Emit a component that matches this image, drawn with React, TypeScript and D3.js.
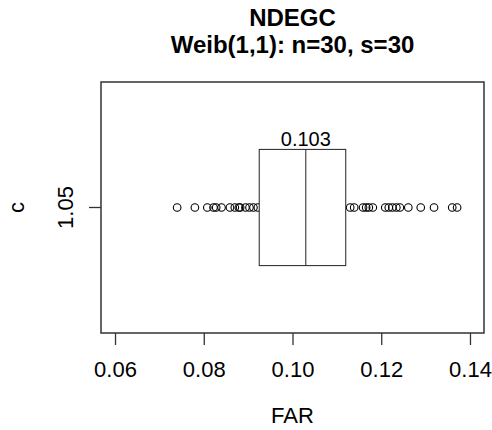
import { useEffect, useRef } from "react";
import * as d3 from "d3";

// FAR values seen as points (the box covers the middle ones)
const farValues = [
  0.074, 0.078, 0.0808, 0.0822, 0.0828, 0.084, 0.0859, 0.087, 0.0879, 0.0882,
  0.0894, 0.0903, 0.0912, 0.0922, 0.113, 0.1139, 0.1159, 0.1166, 0.1172,
  0.1181, 0.1209, 0.1217, 0.1225, 0.1234, 0.1242, 0.1261, 0.1289, 0.1319,
  0.136, 0.1371,
];
const boxStats = [0.0925, 0.103, 0.112]; // q1, median, q3
const xTicks = [0.06, 0.08, 0.1, 0.12, 0.14];
const groupLabels = ["1.05"];
const titleLines = ["NDEGC", "Weib(1,1): n=30, s=30"];

const App = () => {
  const svgRef = useRef<SVGSVGElement>(null);

  useEffect(() => {
    const svg = d3.select(svgRef.current);
    svg.selectAll("*").remove();

    const width = 492;
    const height = 430;
    const margin = { top: 82, right: 8, bottom: 97, left: 101 };
    const font = "'Liberation Sans', Arial, sans-serif";

    const x = d3
      .scaleLinear()
      .domain([0.05684, 0.14316])
      .range([margin.left, width - margin.right]);
    const y = d3
      .scaleBand()
      .domain(groupLabels)
      .range([margin.top, height - margin.bottom])
      .paddingInner(0)
      .paddingOuter(0.58);

    const plotBottom = height - margin.bottom;
    const g = svg.append("g");

    // points
    const cy = y(groupLabels[0])! + y.bandwidth() / 2;
    g.selectAll("circle")
      .data(farValues)
      .enter()
      .append("circle")
      .attr("cx", (d) => x(d))
      .attr("cy", cy)
      .attr("r", 3.8)
      .attr("fill", "none")
      .attr("stroke", "#000")
      .attr("stroke-width", 1.1);

    // box
    const [q1, med, q3] = boxStats;
    g.append("rect")
      .attr("x", x(q1))
      .attr("y", y(groupLabels[0])!)
      .attr("width", x(q3) - x(q1))
      .attr("height", y.bandwidth())
      .attr("fill", "#fff")
      .attr("stroke", "#222")
      .attr("stroke-width", 1);
    g.append("line")
      .attr("x1", x(med))
      .attr("x2", x(med))
      .attr("y1", y(groupLabels[0])!)
      .attr("y2", y(groupLabels[0])! + y.bandwidth())
      .attr("stroke", "#222")
      .attr("stroke-width", 1);
    g.append("text")
      .attr("x", x(med))
      .attr("y", y(groupLabels[0])! - 3)
      .attr("text-anchor", "middle")
      .style("font-family", font)
      .style("font-size", "20px")
      .text(med.toFixed(3));

    // frame
    g.append("rect")
      .attr("x", margin.left)
      .attr("y", margin.top)
      .attr("width", width - margin.right - margin.left)
      .attr("height", plotBottom - margin.top)
      .attr("fill", "none")
      .attr("stroke", "#333")
      .attr("stroke-width", 1.5);

    // x axis
    const xAxis = g
      .append("g")
      .attr("transform", `translate(0,${plotBottom})`)
      .call(
        d3
          .axisBottom(x)
          .tickValues(xTicks)
          .tickSize(12)
          .tickPadding(16)
          .tickFormat(d3.format(".2f"))
      );
    xAxis.select(".domain").remove();
    xAxis.selectAll("line").attr("stroke", "#333").attr("stroke-width", 1.3);
    xAxis
      .selectAll("text")
      .attr("fill", "#000")
      .style("font-family", font)
      .style("font-size", "22px");

    // y axis
    const yAxis = g
      .append("g")
      .attr("transform", `translate(${margin.left},0)`)
      .call(d3.axisLeft(y).tickSize(12).tickPadding(0));
    yAxis.select(".domain").remove();
    yAxis.selectAll("line").attr("stroke", "#333").attr("stroke-width", 1.3);
    yAxis
      .selectAll("text")
      .attr("fill", "#000")
      .attr("x", 0)
      .attr("y", 0)
      .attr("dy", null)
      .attr("transform", "translate(-28,0) rotate(-90)")
      .attr("text-anchor", "middle")
      .style("font-family", font)
      .style("font-size", "22px");

    // axis titles
    const cx = (margin.left + width - margin.right) / 2;
    svg
      .append("text")
      .attr("x", cx)
      .attr("y", 423)
      .attr("text-anchor", "middle")
      .style("font-family", font)
      .style("font-size", "22px")
      .text("FAR");
    svg
      .append("text")
      .attr("transform", `translate(24,${cy}) rotate(-90)`)
      .attr("text-anchor", "middle")
      .style("font-family", font)
      .style("font-size", "22px")
      .text("c");

    // title
    svg
      .selectAll("text.title")
      .data(titleLines)
      .enter()
      .append("text")
      .attr("class", "title")
      .attr("x", cx)
      .attr("y", (d, i) => 26 + i * 27)
      .attr("text-anchor", "middle")
      .style("font-family", font)
      .style("font-weight", "bold")
      .style("font-size", "24px")
      .text((d) => d);
  }, []);

  return (
    <svg
      ref={svgRef}
      width={492}
      height={430}
      style={{ position: "absolute", left: 0, top: 0, background: "#fff" }}
    />
  );
};

export default App;
